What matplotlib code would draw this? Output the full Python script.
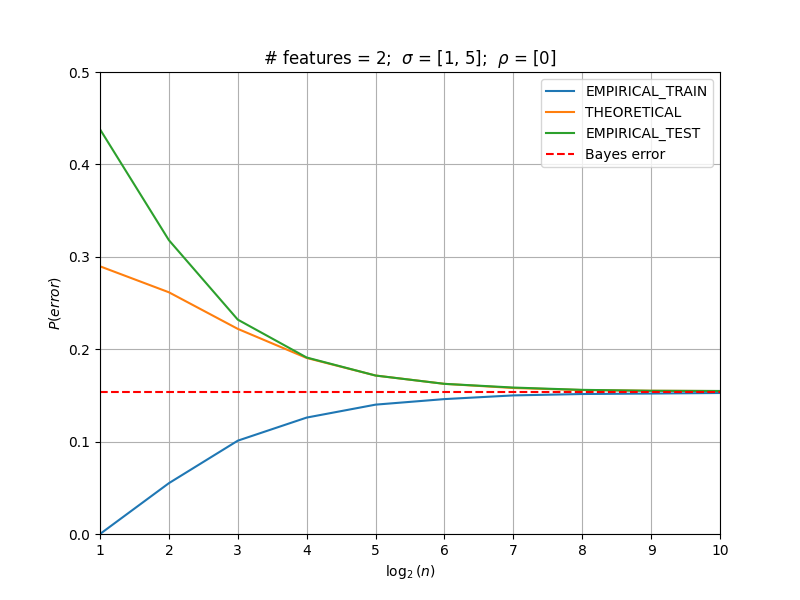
import matplotlib
matplotlib.use("Agg")
import matplotlib.pyplot as plt
import numpy as np

log_n = np.arange(1, 11)
empirical_train = [0.0, 0.055, 0.101, 0.126, 0.140, 0.146, 0.150, 0.1515, 0.152, 0.1526]
theoretical = [0.2897, 0.2616, 0.222, 0.1905, 0.1715, 0.1625, 0.1580, 0.1558, 0.1550, 0.1547]
empirical_test = [0.438, 0.318, 0.232, 0.191, 0.1715, 0.1625, 0.1585, 0.1560, 0.1550, 0.1548]
bayes_error = 0.1537

fig, ax = plt.subplots(figsize=(8, 6), dpi=100)
ax.plot(log_n, empirical_train, label="EMPIRICAL_TRAIN")
ax.plot(log_n, theoretical, label="THEORETICAL")
ax.plot(log_n, empirical_test, label="EMPIRICAL_TEST")
ax.axhline(bayes_error, color="red", linestyle="--", label="Bayes error")

ax.set_xlim(1, 10)
ax.set_ylim(0, 0.5)
ax.set_xlabel(r"$\log_2(n)$")
ax.set_ylabel(r"$P(error)$")
ax.set_title(r"# features = 2;  $\sigma$ = [1, 5];  $\rho$ = [0]")
ax.grid(True)
ax.legend(loc="upper right")

plt.savefig("out.png")
